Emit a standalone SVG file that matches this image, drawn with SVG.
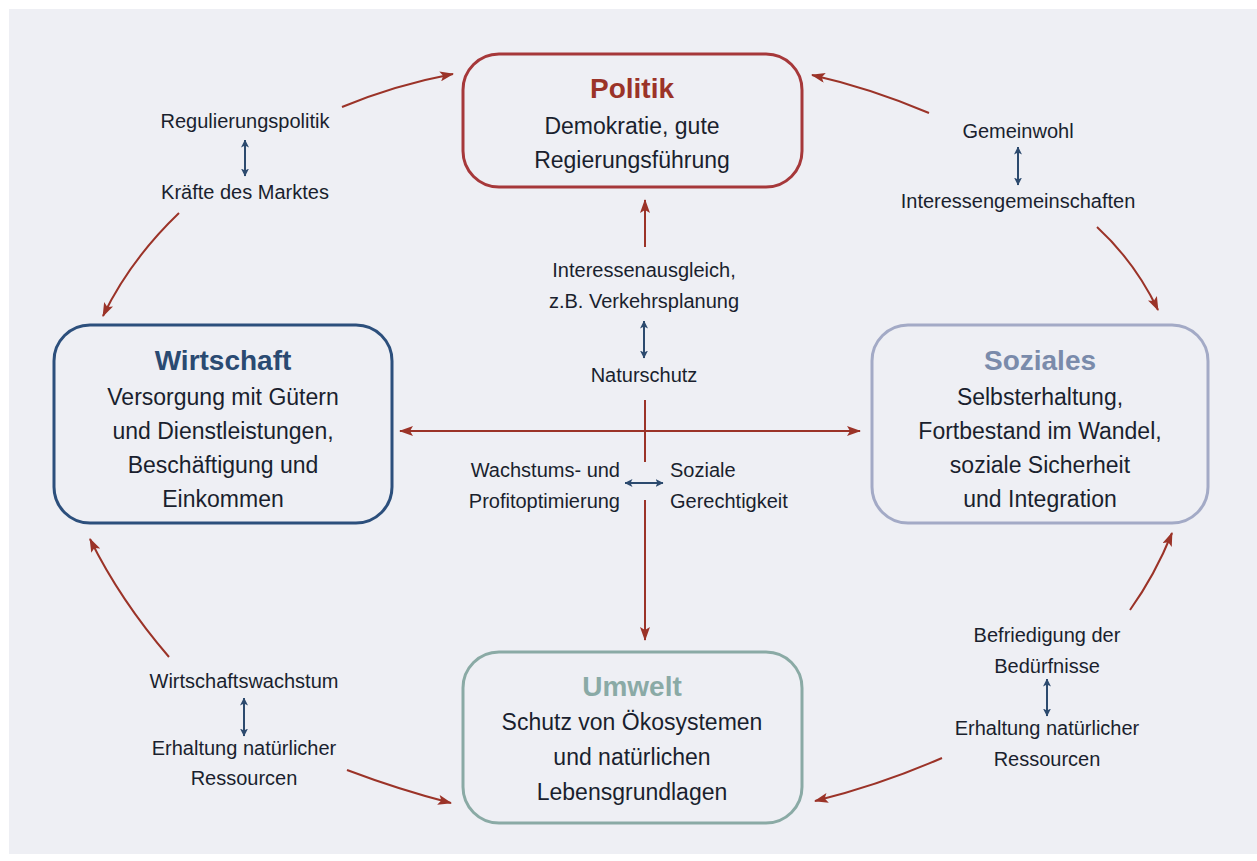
<svg xmlns="http://www.w3.org/2000/svg" width="1257" height="861" viewBox="0 0 1257 861">
<style>
text{font-family:"Liberation Sans",Arial,sans-serif;fill:#1a1f2e;text-anchor:middle}
.t{font-weight:bold;font-size:28px}
.b{font-size:23px}
.l{font-size:20px}
.box{fill:none;stroke-width:3}
.red{fill:none;stroke:#9b3328;stroke-width:2}
.blue{fill:none;stroke:#2c4a6e;stroke-width:2}
</style>
<defs>
<marker id="ar" viewBox="0 0 14 10" refX="13" refY="5" markerWidth="14" markerHeight="10" markerUnits="userSpaceOnUse" orient="auto-start-reverse">
<path d="M0,0 L14,5 L0,10 L3,5 Z" fill="#9b3328"/>
</marker>
<marker id="ab" viewBox="0 0 8 8" refX="7.5" refY="4" markerWidth="8" markerHeight="8" markerUnits="userSpaceOnUse" orient="auto-start-reverse">
<path d="M0,0 L8,4 L0,8 L2,4 Z" fill="#2c4a6e"/>
</marker>
</defs>
<rect x="0" y="0" width="1257" height="861" fill="#ffffff"/>
<rect x="9" y="9" width="1248" height="845" fill="#eeeff4"/>

<g id="connectors">
<path class="red" d="M342,107 Q395,85 453,74" marker-end="url(#ar)"/>
<path class="red" d="M179,213 Q130,260 103,316" marker-end="url(#ar)"/>
<path class="red" d="M929,113 Q870,88 812,75" marker-end="url(#ar)"/>
<path class="red" d="M1097,227 Q1135,262 1158,310" marker-end="url(#ar)"/>
<path class="red" d="M1130,610 Q1155,575 1172,533" marker-end="url(#ar)"/>
<path class="red" d="M942,758 Q880,785 815,801" marker-end="url(#ar)"/>
<path class="red" d="M169,657 Q120,600 90,539" marker-end="url(#ar)"/>
<path class="red" d="M347,770 Q400,790 451,803" marker-end="url(#ar)"/>
<path class="red" d="M645,247 L645,200" marker-end="url(#ar)"/>
<path class="red" d="M645,400 L645,462"/>
<path class="red" d="M645,500 L645,640" marker-end="url(#ar)"/>
<path class="red" d="M400,431 L860,431" marker-start="url(#ar)" marker-end="url(#ar)"/>
<path class="blue" d="M245,140 L245,176" marker-start="url(#ab)" marker-end="url(#ab)"/>
<path class="blue" d="M1018,147 L1018,185" marker-start="url(#ab)" marker-end="url(#ab)"/>
<path class="blue" d="M1047,679 L1047,716" marker-start="url(#ab)" marker-end="url(#ab)"/>
<path class="blue" d="M244,698 L244,736" marker-start="url(#ab)" marker-end="url(#ab)"/>
<path class="blue" d="M644,321 L644,358" marker-start="url(#ab)" marker-end="url(#ab)"/>
<path class="blue" d="M625,483 L663,483" marker-start="url(#ab)" marker-end="url(#ab)"/>
</g>

<g id="politik">
<rect class="box" x="463" y="54" width="339" height="133" rx="36" stroke="#a6383a"/>
<text class="t" x="632" y="98" style="fill:#9b3328">Politik</text>
<text class="b" x="632" y="134">Demokratie, gute</text>
<text class="b" x="632" y="168">Regierungsführung</text>
</g>

<g id="wirtschaft">
<rect class="box" x="54" y="325" width="338" height="198" rx="36" stroke="#2c4f7c"/>
<text class="t" x="223" y="370" style="fill:#2a4a72">Wirtschaft</text>
<text class="b" x="223" y="405">Versorgung mit Gütern</text>
<text class="b" x="223" y="439">und Dienstleistungen,</text>
<text class="b" x="223" y="473">Beschäftigung und</text>
<text class="b" x="223" y="507">Einkommen</text>
</g>

<g id="soziales">
<rect class="box" x="872" y="325" width="336" height="198" rx="36" stroke="#a3aac6"/>
<text class="t" x="1040" y="370" style="fill:#7a8bab">Soziales</text>
<text class="b" x="1040" y="405">Selbsterhaltung,</text>
<text class="b" x="1040" y="439">Fortbestand im Wandel,</text>
<text class="b" x="1040" y="473">soziale Sicherheit</text>
<text class="b" x="1040" y="507">und Integration</text>
</g>

<g id="umwelt">
<rect class="box" x="463" y="652" width="339" height="171" rx="36" stroke="#8aaaa5"/>
<text class="t" x="632" y="696" style="fill:#8aaaa6">Umwelt</text>
<text class="b" x="632" y="730">Schutz von Ökosystemen</text>
<text class="b" x="632" y="765">und natürlichen</text>
<text class="b" x="632" y="800">Lebensgrundlagen</text>
</g>

<g id="labels">
<text class="l" x="245" y="128">Regulierungspolitik</text>
<text class="l" x="245" y="199">Kräfte des Marktes</text>
<text class="l" x="1018" y="138">Gemeinwohl</text>
<text class="l" x="1018" y="208">Interessengemeinschaften</text>
<text class="l" x="644" y="277">Interessenausgleich,</text>
<text class="l" x="644" y="308">z.B. Verkehrsplanung</text>
<text class="l" x="644" y="382">Naturschutz</text>
<text class="l" x="620" y="477" style="text-anchor:end">Wachstums- und</text>
<text class="l" x="620" y="508" style="text-anchor:end">Profitoptimierung</text>
<text class="l" x="670" y="477" style="text-anchor:start">Soziale</text>
<text class="l" x="670" y="508" style="text-anchor:start">Gerechtigkeit</text>
<text class="l" x="1047" y="642">Befriedigung der</text>
<text class="l" x="1047" y="673">Bedürfnisse</text>
<text class="l" x="1047" y="735">Erhaltung natürlicher</text>
<text class="l" x="1047" y="766">Ressourcen</text>
<text class="l" x="244" y="688">Wirtschaftswachstum</text>
<text class="l" x="244" y="755">Erhaltung natürlicher</text>
<text class="l" x="244" y="785">Ressourcen</text>
</g>
</svg>
